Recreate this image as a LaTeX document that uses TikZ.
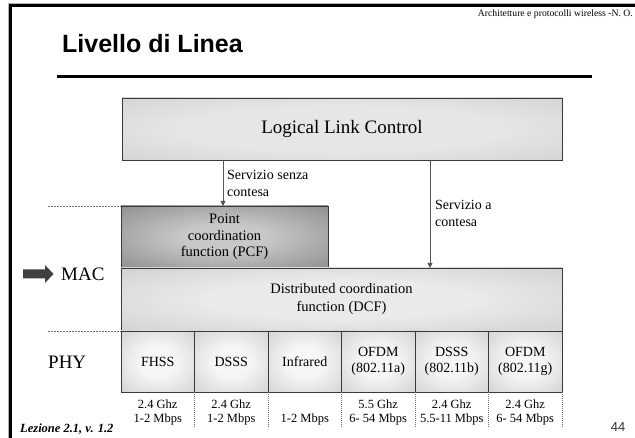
\documentclass[tikz,border=0pt]{standalone}
\usepackage{fontspec}
\setmainfont{Liberation Serif}
\newfontfamily\arialfont{Liberation Sans}
\usetikzlibrary{arrows.meta,calc}
\definecolor{boxline}{HTML}{3A3A3A}
\definecolor{llcin}{HTML}{E6E6E6}
\definecolor{llcout}{HTML}{BCBCBC}
\definecolor{pcfin}{HTML}{C8C8C8}
\definecolor{pcfout}{HTML}{565656}
\definecolor{dcfin}{HTML}{EAEAEA}
\definecolor{dcfout}{HTML}{B4B4B4}
\definecolor{phyin}{HTML}{F6F6F6}
\definecolor{phyout}{HTML}{AEAEAE}
\definecolor{conncol}{HTML}{555555}
\definecolor{dashcol}{HTML}{707070}
\definecolor{blockcol}{HTML}{404040}
\pgfdeclareradialshading{llcsh}{\pgfpoint{0bp}{0bp}}{color(0bp)=(llcin); color(18bp)=(llcin); color(60bp)=(llcout); color(100bp)=(llcout)}
\pgfdeclareradialshading{pcfsh}{\pgfpoint{0bp}{0bp}}{color(0bp)=(pcfin); color(10bp)=(pcfin); color(62bp)=(pcfout); color(100bp)=(pcfout)}
\pgfdeclareradialshading{dcfsh}{\pgfpoint{0bp}{0bp}}{color(0bp)=(dcfin); color(15bp)=(dcfin); color(62bp)=(dcfout); color(100bp)=(dcfout)}
\pgfdeclareradialshading{physh}{\pgfpoint{0bp}{0bp}}{color(0bp)=(phyin); color(12bp)=(phyin); color(62bp)=(phyout); color(100bp)=(phyout)}
\begin{document}
\begin{tikzpicture}[x=1pt,y=-1pt,
  layerbox/.style={draw=boxline, line width=0.8pt, anchor=north west, inner sep=0pt, outer sep=0pt, align=center},
  boxtext/.style={font=\fontsize{14.5}{16.5}\selectfont},
  phybox/.style={layerbox, shade, shading=physh, minimum width=73.5pt, minimum height=61pt, font=\fontsize{14}{16}\selectfont},
  conn/.style={draw=conncol, line width=0.9pt, -{Triangle[length=5pt,width=5pt]}},
  lbl/.style={anchor=north west, inner sep=0pt, align=left, font=\fontsize{14}{17}\selectfont},
  rate/.style={inner sep=0pt, align=center, font=\fontsize{12.5}{14}\selectfont},
  sidedash/.style={draw=dashcol, line width=0.8pt, dash pattern=on 2pt off 1pt},
  sepdot/.style={draw=dashcol, line width=0.7pt, dash pattern=on 1pt off 1pt},
  sidelbl/.style={anchor=west, inner sep=0pt, font=\fontsize{19}{22}\selectfont}]
\useasboundingbox (0,0) rectangle (635,438);
\fill[white] (0,0) rectangle (635,438);
% slide frame
\draw[gray!60, line width=1pt] (8.5,438) -- (8.5,3.5) -- (635,3.5);
\draw[black, line width=2.5pt] (10.5,438) -- (10.5,5.5) -- (635,5.5);
% header
\node[anchor=east, inner sep=0pt, font=\fontsize{9.7}{11}\selectfont] (hdr) at (633,14) {Architetture e protocolli wireless -N. O.};
\node[anchor=base west, inner sep=0pt, font=\arialfont\bfseries\fontsize{25}{29}\selectfont] (title) at (62,53) {Livello di Linea};
\draw[line width=3pt] (57,77) -- (592,77);
% layer boxes
\node[layerbox, shade, shading=llcsh, minimum width=440pt, minimum height=62pt, font=\fontsize{19}{22}\selectfont] (llc) at (122,98) {Logical Link Control};
\node[layerbox, boxtext, shade, shading=pcfsh, minimum width=207pt, minimum height=62pt] (pcf) at (121,206) {Point\\coordination\\function (PCF)};
\node[layerbox, boxtext, shade, shading=dcfsh, minimum width=441pt, minimum height=63pt, font=\fontsize{14.5}{18}\selectfont] (dcf) at (121,268) {Distributed coordination\\function (DCF)};
\node[phybox] (p1) at (121,331) {FHSS};
\node[phybox] (p2) at (194.5,331) {DSSS};
\node[phybox] (p3) at (268,331) {Infrared};
\node[phybox] (p4) at (341.5,331) {OFDM\\(802.11a)};
\node[phybox] (p5) at (415,331) {DSSS\\(802.11b)};
\node[phybox] (p6) at (488.5,331) {OFDM\\(802.11g)};
% service arrows
\coordinate (a1) at (223,0);
\coordinate (a2) at (430,0);
\draw[conn] (llc.south -| a1) -- (pcf.north -| a1);
\draw[conn] (llc.south -| a2) -- (dcf.north -| a2);
\node[lbl] (l1) at (227,170.5) {Servizio senza\\contesa};
\node[lbl] (l2) at (435,200.5) {Servizio a\\contesa};
% side dashed lines and labels
\coordinate (d1) at (48,206);
\coordinate (d2) at (48,331);
\draw[sidedash] (d1) -- (pcf.north west);
\draw[sidedash] (d2) -- (p1.north west);
\fill[blockcol] (23,269.5) -- (45,269.5) -- (45,265) -- (53.5,274) -- (45,283) -- (45,278.5) -- (23,278.5) -- cycle;
\node[sidelbl] (mac) at (61,274) {MAC};
\node[sidelbl] (phy) at (48,362) {PHY};
% rates
\coordinate (bot) at (0,428);
\foreach \p in {p1,p2,p3,p4,p5,p6} {
  \draw[sepdot] (\p.south east) -- (\p.south east |- bot);
}
\node[rate] (r1) at ($(p1.south)+(0,20)$) {2.4 Ghz\\1-2 Mbps};
\node[rate] (r2) at ($(p2.south)+(0,20)$) {2.4 Ghz\\1-2 Mbps};
\node[rate, anchor=base] (r3) at ($(p3.south)+(0,30)$) {1-2 Mbps};
\node[rate] (r4) at ($(p4.south)+(0,20)$) {5.5 Ghz\\6- 54 Mbps};
\node[rate] (r5) at ($(p5.south)+(0,20)$) {2.4 Ghz\\5.5-11 Mbps};
\node[rate] (r6) at ($(p6.south)+(0,20)$) {2.4 Ghz\\6- 54 Mbps};
% footer
\node[anchor=west, inner sep=0pt, font=\bfseries\itshape\fontsize{12.5}{14}\selectfont] (lez) at (20,429) {Lezione 2.1, v. 1.2};
\node[inner sep=0pt, text=black!80, font=\arialfont\fontsize{13}{15}\selectfont] (num) at (618,427) {44};
\end{tikzpicture}
\end{document}
